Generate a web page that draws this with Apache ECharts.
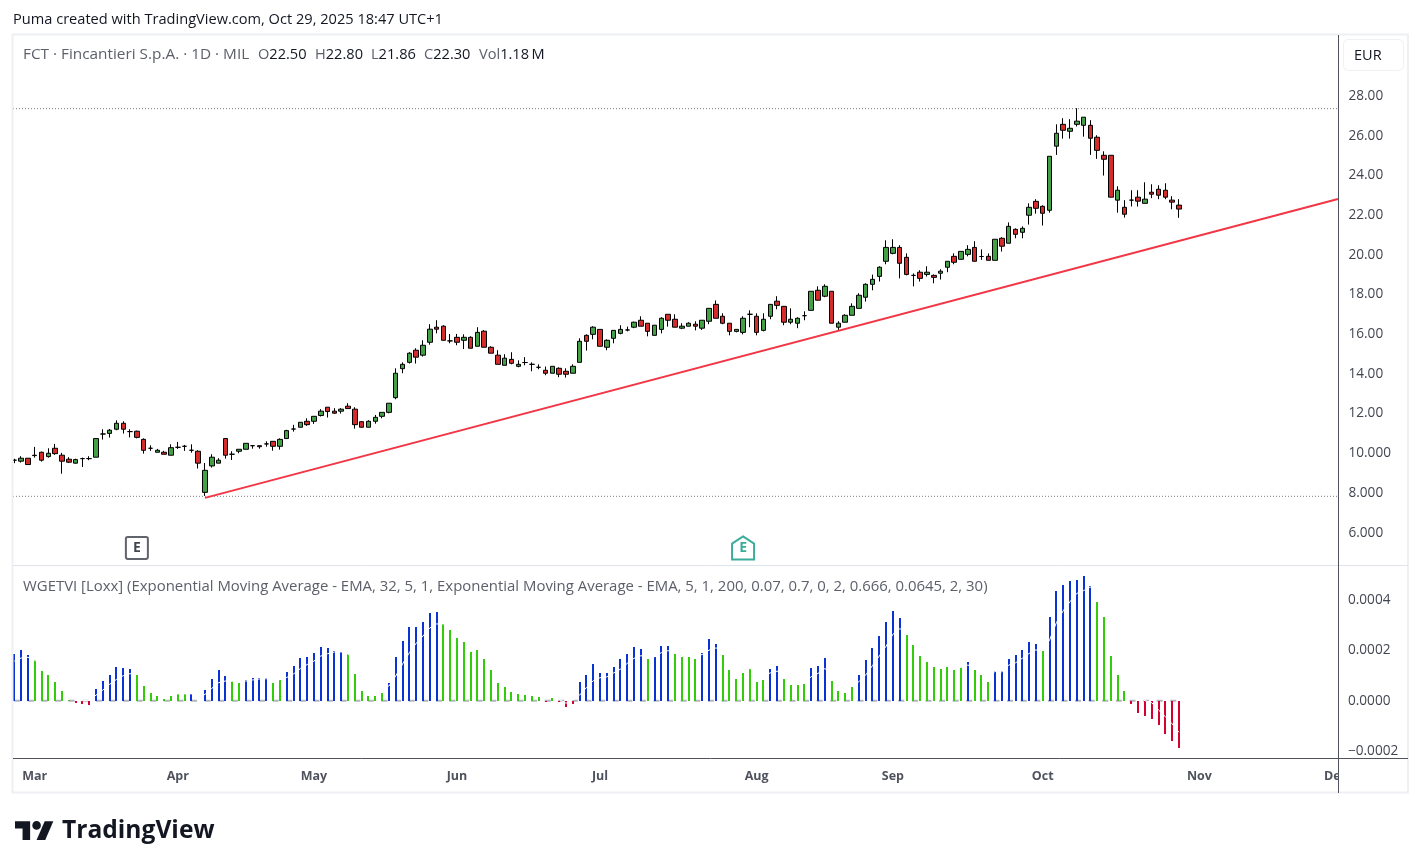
<!DOCTYPE html>
<html>
<head>
<meta charset="utf-8">
<title>FCT - Fincantieri S.p.A.</title>
<style>html,body{margin:0;padding:0;background:#fff}#chart{width:1421px;height:868px}</style>
<script src="https://cdn.jsdelivr.net/npm/echarts@6/dist/echarts.min.js"></script>
</head>
<body>
<div id="chart"></div>
<script>
// Daily FCT prices, one entry per trading session, oldest first (EUR).
const opens = [
  9.65,9.60,9.75,9.88,10.05,9.83,10.25,9.90,9.70,9.50,9.73,9.73,9.80,10.97,11.00,11.21,11.51,11.09,11.11,10.70,
  10.25,10.05,10.05,9.90,10.30,10.35,10.15,10.10,8.03,9.36,9.50,10.74,9.95,10.10,10.20,10.38,10.38,10.47,10.60,10.35,
  10.74,11.22,11.31,11.61,11.61,11.90,12.32,12.12,12.12,12.37,12.22,11.59,11.31,11.61,11.86,12.06,12.80,14.26,14.58,15.19,
  14.94,15.59,16.35,16.40,15.66,15.84,15.69,15.84,15.39,16.15,15.34,14.94,14.43,14.73,14.38,14.57,14.48,14.33,14.18,14.03,
  14.28,14.13,14.03,14.58,15.94,15.99,16.24,15.34,15.79,16.04,16.21,16.35,16.70,16.55,15.94,16.24,17.00,16.75,16.30,16.40,
  16.50,16.30,16.65,17.50,16.90,16.55,16.14,16.09,17.00,16.90,16.19,16.90,17.66,17.40,16.60,16.55,16.93,17.20,18.21,17.91,
  18.16,16.35,16.60,16.95,17.30,17.86,18.51,18.91,19.67,20.07,20.37,19.87,18.96,19.12,19.01,18.96,19.07,19.37,19.92,19.77,
  20.02,20.37,19.91,19.92,19.72,20.83,20.58,21.28,21.13,21.99,22.69,22.44,22.24,25.47,26.57,26.22,26.57,26.52,26.52,25.92,
  25.01,25.01,22.75,22.39,22.75,22.90,22.59,23.15,23.30,23.25,22.75,22.50
];
const closes = [
  9.65,9.75,9.43,9.90,9.65,10.00,9.98,9.60,9.55,9.68,9.73,9.73,10.74,10.97,11.16,11.51,11.21,11.09,10.80,10.15,
  10.25,10.15,9.95,10.28,10.30,10.35,10.15,9.50,9.14,9.80,9.65,9.90,9.95,10.20,10.50,10.38,10.33,10.47,10.35,10.70,
  11.14,11.22,11.56,11.44,11.86,12.12,12.10,12.02,12.22,12.25,11.44,11.31,11.61,11.81,12.06,12.52,14.03,14.48,15.04,14.84,
  15.44,16.25,16.25,15.69,15.66,15.59,15.84,15.29,16.09,15.34,15.04,14.48,14.79,14.53,14.48,14.57,14.48,14.33,14.03,14.38,
  13.98,13.98,14.38,15.64,15.64,16.35,15.39,15.69,16.19,16.24,16.21,16.60,16.40,16.14,16.45,16.80,16.70,16.35,16.40,16.55,
  16.40,16.70,17.30,16.80,16.55,16.14,16.24,16.80,17.00,16.09,16.75,17.50,17.45,16.60,16.75,16.80,16.93,18.16,17.71,18.41,
  16.55,16.55,16.95,17.40,17.96,18.51,18.76,19.37,20.37,20.37,19.57,19.01,18.96,18.81,19.12,18.86,19.17,19.67,19.62,20.17,
  20.27,19.67,19.91,19.72,20.78,20.43,21.43,21.03,21.33,22.39,22.34,22.09,24.96,26.12,26.27,26.37,26.73,26.93,25.87,25.26,
  24.81,22.90,23.25,22.04,22.75,22.70,22.80,23.05,23.00,22.90,22.65,22.30
];
const lows = [
  9.50,9.53,9.43,9.78,9.58,9.78,9.92,8.97,9.51,9.48,9.31,9.65,9.80,10.69,10.79,11.16,10.99,10.80,10.75,9.98,
  10.12,10.05,9.95,9.90,10.22,10.12,10.03,9.23,7.85,9.28,9.50,9.73,9.66,10.00,10.20,10.23,10.23,10.33,10.13,10.18,
  10.74,11.09,11.31,11.38,11.48,11.85,11.80,11.98,12.00,12.25,11.24,11.29,11.31,11.49,11.76,12.01,12.72,14.03,14.52,14.52,
  14.87,15.47,16.04,15.69,15.54,15.44,15.25,15.29,15.39,15.34,15.04,14.48,14.43,14.48,14.33,14.43,14.13,14.23,13.93,14.03,
  13.83,13.81,14.03,14.58,15.17,15.74,15.39,15.19,15.54,15.99,16.14,16.30,16.40,15.89,15.94,16.04,16.38,16.35,16.25,16.40,
  16.19,16.21,16.50,16.80,16.50,15.94,16.09,15.99,16.35,15.94,16.14,16.75,17.25,16.45,16.50,16.30,16.70,17.20,17.71,17.86,
  16.55,16.21,16.60,16.95,17.30,17.64,18.21,18.65,19.52,20.02,18.81,18.96,18.41,18.65,18.90,18.56,18.75,19.12,19.52,19.77,
  19.92,19.67,19.74,19.72,19.72,20.16,20.58,20.83,20.83,21.52,22.07,21.47,22.12,25.03,25.85,25.85,26.46,25.95,25.03,24.83,
  23.99,22.90,22.12,21.87,22.43,22.43,22.59,22.85,22.80,22.80,22.29,21.86
];
const highs = [
  9.72,9.85,9.75,10.32,10.08,10.25,10.47,10.02,9.80,9.73,9.78,9.85,10.74,11.21,11.22,11.66,11.61,11.21,11.14,10.75,
  10.40,10.22,10.12,10.45,10.57,10.42,10.45,10.15,9.51,9.95,9.75,10.74,10.10,10.20,10.50,10.40,10.38,10.60,10.60,10.75,
  11.18,11.43,11.56,11.76,11.86,12.22,12.32,12.27,12.27,12.52,12.32,11.62,11.66,11.93,12.06,12.52,14.28,14.58,15.09,15.29,
  15.69,16.50,16.70,16.45,16.01,16.01,15.99,15.89,16.35,16.20,15.39,15.19,14.99,15.09,14.68,14.84,14.58,14.48,14.37,14.38,
  14.33,14.28,14.48,15.79,15.99,16.40,16.24,15.74,16.19,16.45,16.38,16.63,16.90,16.55,16.45,16.85,17.00,17.00,16.55,16.60,
  16.65,16.70,17.30,17.70,17.05,16.55,16.24,16.90,17.20,17.05,17.05,17.50,17.91,17.40,17.30,16.85,17.15,18.16,18.41,18.51,
  18.16,16.65,17.00,17.55,18.06,18.56,19.00,19.42,20.73,20.78,20.48,20.07,19.06,19.22,19.42,19.01,19.27,19.67,20.07,20.17,
  20.48,20.68,20.27,20.07,20.78,20.88,21.63,21.33,21.43,22.59,22.80,22.49,24.96,26.57,26.88,26.83,27.38,26.93,26.78,26.02,
  25.21,25.01,23.45,22.75,23.25,23.25,23.65,23.55,23.50,23.60,22.95,22.80
];

// WGETVI histogram, in units of 0.0001, and the trend state of each session.
const wgetviValues = [
  1.85,2.00,1.81,1.61,1.17,1.02,0.74,0.38,0.04,-0.09,-0.13,-0.17,0.46,0.78,1.02,1.33,1.29,1.25,1.02,0.58,
  0.30,0.18,0.08,0.18,0.26,0.28,0.28,-0.02,0.42,0.86,1.21,0.98,0.77,0.70,0.82,0.90,0.90,0.90,0.70,0.81,
  1.14,1.37,1.69,1.73,1.89,2.13,2.09,1.97,1.93,1.85,1.06,0.38,0.18,0.18,0.30,0.70,1.73,2.36,2.92,2.92,
  3.12,3.47,3.51,3.04,2.80,2.48,2.32,1.93,2.01,1.65,1.21,0.70,0.54,0.34,0.26,0.22,0.18,0.15,-0.04,0.10,
  -0.05,-0.25,-0.13,0.74,1.02,1.45,1.10,1.10,1.33,1.65,1.85,2.13,2.05,1.65,1.73,2.17,2.17,1.85,1.73,1.73,
  1.65,1.89,2.44,2.24,1.81,1.21,0.86,1.10,1.25,0.74,0.82,1.25,1.37,0.86,0.62,0.62,0.66,1.29,1.37,1.69,
  0.78,0.38,0.30,0.54,1.02,1.61,2.09,2.56,3.12,3.55,3.27,2.60,2.20,1.77,1.53,1.33,1.25,1.33,1.21,1.33,
  1.53,1.21,1.02,0.74,1.17,1.17,1.65,1.81,2.01,2.32,2.24,1.97,3.31,4.34,4.58,4.74,4.78,4.94,4.54,3.91,
  3.31,1.77,1.02,0.38,-0.13,-0.49,-0.61,-0.73,-0.96,-1.32,-1.60,-1.87
];
// Runs of consecutive sessions sharing a state: b rising, g fading, r below zero.
const wgetviStateRuns = [
  ['b',3],['g',6],['r',3],['b',6],['g',8],['b',1],['r',1],['b',4],['g',2],['b',4],['g',2],['b',9],
  ['g',6],['b',8],['g',15],['r',1],['g',1],['r',3],['b',10],['g',1],['b',3],['g',4],['b',3],['g',7],
  ['b',2],['g',4],['b',3],['g',4],['b',7],['g',9],['b',1],['g',3],['b',7],['g',1],['b',7],['g',5],['r',8]
];
const wgetviSignal = [
  1.57,1.69,1.72,1.60,1.45,1.30,1.10,0.80,0.50,0.10,0.00,0.02,0.22,0.42,0.65,0.84,0.99,1.07,1.06,0.90,
  0.70,0.50,0.35,0.28,0.27,0.27,0.27,0.12,0.25,0.49,0.71,0.78,0.77,0.75,0.78,0.82,0.86,0.87,0.85,0.83,
  0.92,1.06,1.27,1.43,1.57,1.77,1.86,1.93,1.93,1.85,1.60,1.20,0.90,0.70,0.55,0.58,0.98,1.45,1.90,2.27,
  2.56,2.88,3.04,3.04,2.95,2.80,2.65,2.40,2.30,2.10,1.80,1.40,1.10,0.85,0.65,0.50,0.40,0.30,0.20,0.15,
  0.05,-0.10,0.03,0.22,0.52,0.79,0.91,0.94,1.10,1.25,1.48,1.68,1.78,1.75,1.74,1.90,1.98,1.95,1.88,1.83,
  1.76,1.83,2.00,2.09,2.00,1.70,1.40,1.30,1.28,1.10,1.00,1.10,1.17,1.05,0.85,0.75,0.70,0.95,1.08,1.27,
  1.10,0.85,0.60,0.57,0.75,1.02,1.39,1.77,2.16,2.63,2.85,2.75,2.50,2.15,1.85,1.60,1.45,1.40,1.30,1.32,
  1.41,1.33,1.20,0.95,1.16,1.14,1.41,1.50,1.68,1.87,2.01,2.00,2.40,3.09,3.56,3.92,4.25,4.36,4.51,4.20,
  3.75,2.75,1.90,1.15,0.40,0.15,0.00,-0.08,-0.37,-0.63,-0.92,-1.25
];
const INDICATOR_UNIT = 1e-4;

// Chart annotations, expressed in session index / price terms.
const trendLineBars = [28, 194.35];
const trendLinePrices = [7.75, 22.81];
const rangeHigh = 27.36;
const rangeLow = 7.83;
const earningsBars = [18, 107];
const earningsY = 5.23;

// Axis ticks and labels.
const priceTicks = [6,8,10,12,14,16,18,20,22,24,26,28];
const priceTickLabels = ['6.000','8.000','10.000','12.00','14.00','16.00','18.00','20.00','22.00','24.00','26.00','28.00'];
const indicatorTicks = [-2e-4,0,2e-4,4e-4];
const indicatorTickLabels = ['\u22120.0002','0.0000','0.0002','0.0004'];
const monthTicks = [3,24,44,65,86,109,129,151,174,194];
const monthLabels = ['Mar','Apr','May','Jun','Jul','Aug','Sep','Oct','Nov','Dec'];

// Legend readout of the last session.
const readoutLabels = ['O','H','L','C','Vol'];
const readoutValues = ['22.50','22.80','21.86','22.30','1.18\u2009M'];
const readoutX = [258,315,371,424,479];

const FONT = '"Open Sans", "Noto Sans", sans-serif';
const UP = '#43a047', DOWN = '#d62b2b', INK = '#131722', MUTED = '#5d606b';
const X_MIN = -0.19, X_MAX = 194.35;
const STATE_COLORS = { b: '#0a33d6', g: '#33cc0a', r: '#d4002f' };

const wgetviStates = wgetviStateRuns.flatMap(([state, count]) => Array(count).fill(state));
const candleData = opens.map((o, i) => [i, o, closes[i], lows[i], highs[i]]);
const barData = wgetviValues.map((v, i) => [i, v * INDICATOR_UNIT]);
const signalData = wgetviSignal.map((v, i) => [i, v * INDICATOR_UNIT]);
const zeroData = wgetviValues.map((v, i) => [i, 0]);
const trendData = trendLineBars.map((b, i) => [b, trendLinePrices[i]]);

const dottedLevel = (level) => ({
  type: 'line', xAxisIndex: 0, yAxisIndex: 0, silent: true, symbol: 'none',
  data: [[X_MIN, level], [X_MAX, level]],
  lineStyle: { color: '#787b86', width: 1, type: [1, 2] }
});

// Histogram columns snapped to whole pixels so each stays a solid 2px stroke.
const renderColumn = (params, api) => {
  const top = api.coord([api.value(0), api.value(1)]);
  const base = api.coord([api.value(0), 0]);
  const x = Math.round(top[0]) - 1;
  const y0 = Math.round(base[1]), y1 = Math.round(top[1]);
  return {
    type: 'rect',
    shape: { x, y: Math.min(y0, y1), width: 2, height: Math.abs(y0 - y1) },
    style: { fill: STATE_COLORS[wgetviStates[params.dataIndex]] }
  };
};

const legendItems = readoutLabels.map((label, i) => ({
  type: 'text', z: 93,
  style: { x: readoutX[i], y: 55, textVerticalAlign: 'middle',
    rich: { m: { fill: MUTED, font: '14.6px ' + FONT }, v: { fill: INK, font: '14.6px ' + FONT } },
    text: '{m|' + label + '}{v|' + readoutValues[i] + '}' }
}));

const chart = echarts.init(document.getElementById('chart'), null, { renderer: 'canvas' });
chart.setOption({
  animation: false,
  backgroundColor: '#ffffff',
  textStyle: { fontFamily: FONT },
  grid: [
    { left: 13, right: 83, top: 35, height: 530 },
    { left: 13, right: 83, top: 566, height: 192 }
  ],
  xAxis: [
    { type: 'value', gridIndex: 0, min: X_MIN, max: X_MAX,
      axisLine: { show: false }, axisTick: { show: false }, axisLabel: { show: false }, splitLine: { show: false } },
    { type: 'value', gridIndex: 1, min: X_MIN, max: X_MAX,
      axisLine: { show: false }, axisTick: { show: false }, splitLine: { show: false },
      axisLabel: {
        customValues: monthTicks, margin: 12, color: '#50535e', fontSize: 12.5, fontWeight: 'bold', fontFamily: FONT,
        formatter: (v) => monthLabels[monthTicks.indexOf(v)] || ''
      } }
  ],
  yAxis: [
    { type: 'value', gridIndex: 0, position: 'right', min: 4.37, max: 31.07,
      axisLine: { show: false }, axisTick: { show: false }, splitLine: { show: false },
      axisLabel: {
        customValues: priceTicks, margin: 10.5, padding: [2, 0, 0, 0], color: '#434651', fontSize: 13.6, fontFamily: FONT,
        formatter: (v) => priceTickLabels[priceTicks.indexOf(v)] || ''
      } },
    { type: 'value', gridIndex: 1, position: 'right', min: -2.27e-4, max: 5.335e-4,
      axisLine: { show: false }, axisTick: { show: false }, splitLine: { show: false },
      axisLabel: {
        customValues: indicatorTicks, margin: 10, padding: [1, 0, 0, 0], color: '#434651', fontSize: 13.6, fontFamily: FONT,
        formatter: (v) => indicatorTickLabels[indicatorTicks.indexOf(v)] || ''
      } }
  ],
  series: [
    dottedLevel(rangeHigh),
    dottedLevel(rangeLow),
    {
      type: 'candlestick', xAxisIndex: 0, yAxisIndex: 0, barWidth: 5,
      encode: { x: 0, y: [1, 2, 3, 4] },
      data: candleData,
      itemStyle: { color: UP, color0: DOWN, borderColor: '#000000', borderColor0: '#000000', borderColorDoji: '#000000', borderWidth: 1 },
      z: 3
    },
    {
      type: 'line', xAxisIndex: 0, yAxisIndex: 0, symbol: 'none', z: 4,
      data: trendData,
      lineStyle: { color: '#f23645', width: 2 }
    },
    {
      type: 'scatter', xAxisIndex: 0, yAxisIndex: 0, z: 5, silent: true,
      data: [
        { value: [earningsBars[0], earningsY], symbol: 'path://M2 0H22Q24 0 24 2V22Q24 24 22 24H2Q0 24 0 22V2Q0 0 2 0Z', symbolSize: 22,
          itemStyle: { color: '#ffffff', borderColor: '#3a3d47', borderWidth: 2 },
          label: { color: '#131722' } },
        { value: [earningsBars[1], earningsY], symbol: 'path://M12 0 L24 8 V26 H0 V8 Z', symbolSize: [22, 23],
          itemStyle: { color: '#ffffff', borderColor: '#089981', borderWidth: 2 },
          label: { color: '#089981' } }
      ],
      label: { show: true, position: 'inside', formatter: 'E', fontSize: 14, fontWeight: 'bold', fontFamily: FONT }
    },
    {
      type: 'line', xAxisIndex: 1, yAxisIndex: 1, symbol: 'none', silent: true, z: 1,
      data: zeroData,
      lineStyle: { color: '#b2b5be', width: 2, type: [6, 7.6] }
    },
    {
      type: 'custom', xAxisIndex: 1, yAxisIndex: 1, z: 2, silent: true,
      encode: { x: 0, y: 1 },
      data: barData,
      renderItem: renderColumn
    },
    {
      type: 'line', xAxisIndex: 1, yAxisIndex: 1, symbol: 'none', silent: true, z: 3,
      data: signalData,
      lineStyle: { color: '#ffffff', width: 1 }
    }
  ],
  graphic: [
    // Masks the month labels that run past the plot area into the scale column.
    { type: 'rect', z: 90, shape: { x: 1339, y: 759, width: 68, height: 33 }, style: { fill: '#ffffff' } },
    // Frame, pane divider, axes.
    { type: 'rect', z: 91, shape: { x: 12.5, y: 34.5, width: 1395.5, height: 758 }, style: { fill: 'none', stroke: '#eef0f3', lineWidth: 2 } },
    { type: 'line', z: 92, shape: { x1: 13, y1: 565.5, x2: 1408, y2: 565.5 }, style: { stroke: '#e0e3eb', lineWidth: 1 } },
    { type: 'line', z: 92, shape: { x1: 13, y1: 758.5, x2: 1408, y2: 758.5 }, style: { stroke: '#50535e', lineWidth: 1 } },
    { type: 'line', z: 92, shape: { x1: 1338.5, y1: 35, x2: 1338.5, y2: 793 }, style: { stroke: '#50535e', lineWidth: 1 } },
    // Currency button.
    { type: 'rect', z: 92, shape: { x: 1343.5, y: 39.5, width: 60, height: 31, r: 5 }, style: { fill: '#ffffff', stroke: '#eef0f3', lineWidth: 1 } },
    { type: 'text', z: 93, style: { x: 1354, y: 56, text: 'EUR', fill: INK, font: '14.5px ' + FONT, textVerticalAlign: 'middle' } },
    // Titles.
    { type: 'text', z: 93, style: { x: 13, y: 20, text: 'Puma created with TradingView.com, Oct 29, 2025 18:47 UTC+1', fill: INK, font: '14.6px ' + FONT, textVerticalAlign: 'middle' } },
    { type: 'text', z: 93, style: { x: 23, y: 55, text: 'FCT \u00b7 Fincantieri S.p.A. \u00b7 1D \u00b7 MIL', fill: MUTED, font: '15.35px ' + FONT, textVerticalAlign: 'middle' } },
    ...legendItems,
    { type: 'text', z: 93, style: { x: 23, y: 587, text: 'WGETVI [Loxx] (Exponential Moving Average - EMA, 32, 5, 1, Exponential Moving Average - EMA, 5, 1, 200, 0.07, 0.7, 0, 2, 0.666, 0.0645, 2, 30)', fill: MUTED, font: '14.93px ' + FONT, textVerticalAlign: 'middle' } },
    // Brand mark.
    { type: 'polygon', z: 93, x: 15, y: 817, scaleX: 1.08, scaleY: 1.05, shape: { points: [[0,4],[14,4],[14,22],[7,22],[7,11],[0,11]] }, style: { fill: INK } },
    { type: 'polygon', z: 93, x: 15, y: 817, scaleX: 1.08, scaleY: 1.05, shape: { points: [[20,22],[28,22],[35.5,4],[27.5,4]] }, style: { fill: INK } },
    { type: 'circle', z: 93, shape: { cx: 36.6, cy: 825.4, r: 4.3 }, style: { fill: INK } },
    { type: 'text', z: 93, style: { x: 62, y: 831, text: 'TradingView', fill: INK, font: 'bold 24.6px ' + FONT, textVerticalAlign: 'middle' } }
  ]
});
</script>
</body>
</html>
